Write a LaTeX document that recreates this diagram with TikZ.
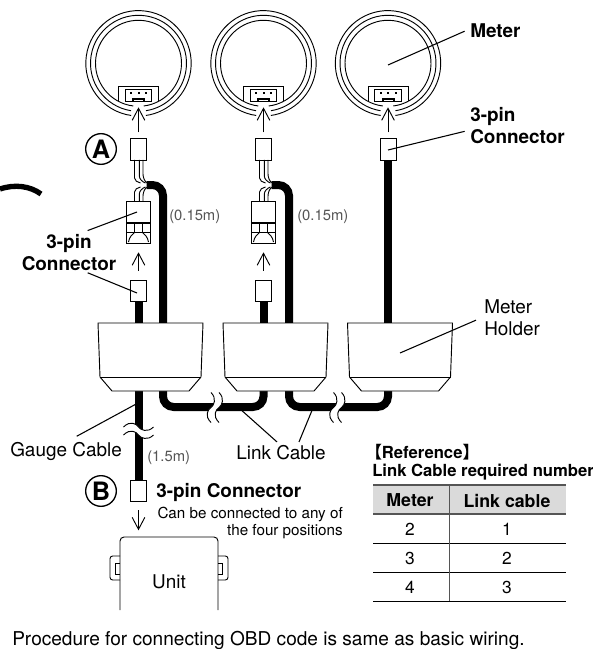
\documentclass[tikz,border=0pt]{standalone}
\usepackage{fontspec}
\setmainfont{TeX Gyre Heros}
\newfontfamily\cjk{Noto Sans CJK JP}
\usetikzlibrary{arrows.meta}
\definecolor{inkgray}{HTML}{555555}
\definecolor{headgray}{HTML}{DADADA}
\tikzset{
  thinline/.style={line width=0.7pt},
  cable/.style={line width=6pt,rounded corners=8pt},
  leader/.style={line width=0.8pt},
  plug/.style={draw,thinline,fill=white,inner sep=0,minimum width=12pt,minimum height=16pt},
  txt/.style={inner sep=0,font=\fontsize{14.2}{16.5}\selectfont},
  bold/.style={inner sep=0,font=\fontsize{14.2}{16.5}\selectfont\bfseries},
  small/.style={inner sep=0,font=\fontsize{11.4}{13}\selectfont},
  len/.style={inner sep=0,text=inkgray,font=\fontsize{11.1}{13}\selectfont},
  cell/.style={inner sep=0,font=\fontsize{13}{15}\selectfont},
  badge/.style={draw,circle,line width=1pt,inner sep=0,minimum size=23pt,font=\fontsize{19}{19}\selectfont\bfseries},
  arrowgap/.style={thinline,shorten <=4.5pt,shorten >=3.8pt},
  brk/.pic={
    \fill[white] (-15,-4) .. controls (-8,-11) and (-2,-7) .. (0,-4) .. controls (2,-1) and (9,2) .. (15,-4)
      -- (15,4) .. controls (9,10) and (2,7) .. (0,4) .. controls (-2,1) and (-8,-3) .. (-15,4) -- cycle;
    \draw[thinline] (-15,-4) .. controls (-8,-11) and (-2,-7) .. (0,-4) .. controls (2,-1) and (9,2) .. (15,-4);
    \draw[thinline] (-15,4) .. controls (-8,-3) and (-2,1) .. (0,4) .. controls (2,7) and (9,10) .. (15,4);
  }
}
\begin{document}
\begin{tikzpicture}[x=0.75pt,y=-0.75pt,>={Straight Barb[length=9pt,width=9.5pt]}]
  \useasboundingbox (0,0) rectangle (592,649);

  \draw[line width=4pt] (0,189) .. controls (15,184) and (30,186) .. (41,194);

  \foreach \mx/\n in {138.5/a,263.5/b,388/c}{
    \begin{scope}[shift={(\mx,63.3)}]
      \draw[thinline] (98:52.7) arc (98:442:52.7);
      \draw[thinline] (99:48) arc (99:441:48);
      \draw[thinline] (97:43) arc (97:443:43);
    \end{scope}
    \begin{scope}[shift={(\mx,0)}]
      \fill[white] (-20,87) rectangle (20,101);
      \draw[thinline] (-20,101.5) -- (-20,86.5) -- (20,86.5) -- (20,101.5);
      \draw[thinline] (-13.5,101) -- (-13.5,89.5) -- (13,89.5) -- (13,101) -- (6,101) -- (6,98) -- (-6,98) -- (-6,101) -- cycle;
      \draw[thinline] (-5,101) rectangle (5,99);
      \foreach \p in {-7.5,0,7.5}
        \fill (\p-1,92.5) rectangle (\p+1,94.5);
      \node[inner sep=0,minimum width=30pt,minimum height=12pt] (sock\n) at (0,94) {};
      \node[plug] (top\n) at (0,149.5) {};
    \end{scope}
    \draw[->,arrowgap] (top\n.north) -- (sock\n.south);
  }

  \foreach \mx/\n/\lx in {138.5/a/163,263.5/b/289}{
    \begin{scope}[shift={(\mx,0)}]
      \foreach \wx/\ya/\yb/\ex in {-4/178/192/2,0.8/176/194/7,4.5/174/196/9}{
        \draw[thinline] (\wx,160) -- (\wx,\ya) .. controls (\wx,\ya+3) and (\ex-3,185-3) .. (\ex,185-2);
        \draw[thinline] (\wx,202) -- (\wx,\yb) .. controls (\wx,\yb-3) and (\ex-3,185+3) .. (\ex,185+2);
      }
      \node[plug,minimum width=18pt,minimum height=31pt] (mid\n) at (0,222.5) {};
      \draw[line width=0.9pt] (-12,223) -- (12,223);
      \draw[thinline] (-12,232.5) -- (12,232.5);
      \draw[thinline] (-4,223) -- (-4,232.5) (4,223) -- (4,232.5);
      \draw[thinline] (-10,242) .. controls (-9,237) and (-7,235) .. (-4,232.5);
      \draw[thinline] (10,242) .. controls (9,237) and (7,235) .. (4,232.5);
      \node[plug] (low\n) at (0,291) {};
      \coordinate (wire\n) at (8,185);
    \end{scope}
    \draw[cable] (wire\n) -- (\lx,185) -- (\lx,323);
    \draw[->,thinline,shorten <=7pt,shorten >=6.5pt] (low\n.north) -- (mid\n.south);
  }

  \coordinate (holda) at (150.5,323);
  \coordinate (holdb) at (275.5,323);
  \coordinate (holdc) at (400,323);
  \draw[cable] (lowa.south) -- (lowa.south |- holda);
  \draw[cable] (lowb.south) -- (lowb.south |- holdb);
  \draw[cable] (topc.south) -- (topc.south |- holdc);

  \node[plug] (plugb) at (138.5,491) {};
  \draw[cable] (138.5,390) -- (plugb.north);
  \draw[cable] (163,390) -- (163,407) -- (263.5,407) -- (263.5,390);
  \draw[cable] (289,390) -- (289,407) -- (388,407) -- (388,390);

  \foreach \n in {a,b,c}{
    \begin{scope}[shift={(hold\n)}]
      \draw[thinline,fill=white] (-52.5,0) -- (52.5,0) -- (50.5,54) -- (38.5,68) -- (-38.5,68) -- (-50.5,54) -- cycle;
      \draw[thinline] (-50.5,54) -- (50.5,54);
    \end{scope}
  }

  \pic at (138.5,431) {brk};
  \pic[rotate=90] at (215,407.5) {brk};
  \pic[rotate=90] at (337.5,407.5) {brk};

  \coordinate (unittop) at (169,537);
  \foreach \s in {-1,1}{
    \begin{scope}[shift={(169,0)},x={(\s*0.75pt,0)}]
      \draw[thinline,rounded corners=2pt] (49,556) -- (59,556) -- (59,580) -- (49,580);
      \draw[thinline] (49,563.5) -- (53.5,563.5) -- (53.5,574) -- (49,574);
    \end{scope}
  }
  \draw[thinline,rounded corners=3pt] (120,610) -- (120,537) -- (218,537) -- (218,610);
  \draw[->,thinline,shorten <=6pt,shorten >=5pt] (plugb.south) -- (plugb.south |- unittop);

  \node[badge] (marka) at (101,149) {A};
  \node[badge] (markb) at (101,491) {B};

  \node[bold,anchor=base west] (lbmeter) at (470,38) {Meter};
  \node[bold,align=left,anchor=west] (lbtop) at (470,126) {3-pin\\Connector};
  \node[bold,align=center] (lbpin) at (69,253) {3-pin\\Connector};
  \node[txt,align=left,anchor=west] (lbhold) at (484,317.5) {Meter\\Holder};
  \node[txt,anchor=base west] (lbgauge) at (10,456) {Gauge Cable};
  \node[txt,anchor=base west] (lblink) at (236,459) {Link Cable};
  \node[bold,anchor=base west] (lbunit) at (156,497) {3-pin Connector};
  \node[small,align=right,anchor=north east] (lbcan) at (343,507) {Can be connected to any of\\the four positions};
  \node[txt] (lbbox) at (169,582) {Unit};
  \node[len,anchor=base west] (lenb) at (147,461) {(1.5m)};
  \node[len,anchor=base west] (lena) at (169,220) {(0.15m)};
  \node[len,anchor=base west] (lenc) at (297,220) {(0.15m)};
  \node[anchor=base west,inner sep=0,font=\fontsize{14.3}{16.5}\selectfont] (lbproc) at (12,645) {Procedure for connecting OBD code is same as basic wiring.};

  \coordinate (meterpt) at (388,65);
  \coordinate (toppt) at (388,150);
  \coordinate (midpt) at (137,212);
  \coordinate (lowpt) at (137,293);
  \coordinate (holdpt) at (400,353);
  \coordinate (gaugept) at (138,403);
  \coordinate (linkpta) at (239,408);
  \coordinate (linkptb) at (313,408);
  \draw[leader] ([xshift=-4pt]lbmeter.west) -- (meterpt);
  \draw[leader] ([shift={(-4pt,-4pt)}]lbtop.west) -- (toppt);
  \draw[leader] ([shift={(14pt,3pt)}]lbpin.north) -- (midpt);
  \draw[leader] ([shift={(14pt,-1pt)}]lbpin.south) -- (lowpt);
  \draw[leader] ([xshift=-6pt]lbhold.west) ++(0,-2pt) -- (holdpt);
  \draw[leader] ([shift={(8pt,4pt)}]lbgauge.north) -- (gaugept);
  \draw[leader] ([shift={(-3pt,2pt)}]lblink.north) -- (linkpta);
  \draw[leader] ([shift={(-3pt,2pt)}]lblink.north) ++(16.5pt,0) -- (linkptb);

  \node[anchor=base west,inner sep=0,font=\fontsize{12.5}{15}\selectfont\bfseries] (tbltitle) at (365,458) {{\cjk 【}Reference{\cjk 】}};
  \node[anchor=base west,inner sep=0,font=\fontsize{12.5}{15}\selectfont\bfseries] (tblsub) at (372,476) {Link Cable required number};

  \fill[headgray] (373,485) rectangle (566,514);
  \draw[line width=1pt,inkgray] (373,485) -- (566,485) (373,514) -- (566,514);
  \foreach \y in {543,572,601}
    \draw[thinline] (373,\y) -- (566,\y);
  \draw[thinline,inkgray] (449,485) -- (449,601);
  \node[cell,font=\fontsize{13.3}{15}\selectfont\bfseries] (hdm) at (410,500.5) {Meter};
  \node[cell,font=\fontsize{13.3}{15}\selectfont\bfseries] (hdl) at (507,500.5) {Link cable};
  \foreach \r/\m/\c/\y in {1/2/1/529.5,2/3/2/558.5,3/4/3/587.5}{
    \node[cell] (m\r) at (410,\y) {\m};
    \node[cell] (c\r) at (507,\y) {\c};
  }
\end{tikzpicture}
\end{document}
